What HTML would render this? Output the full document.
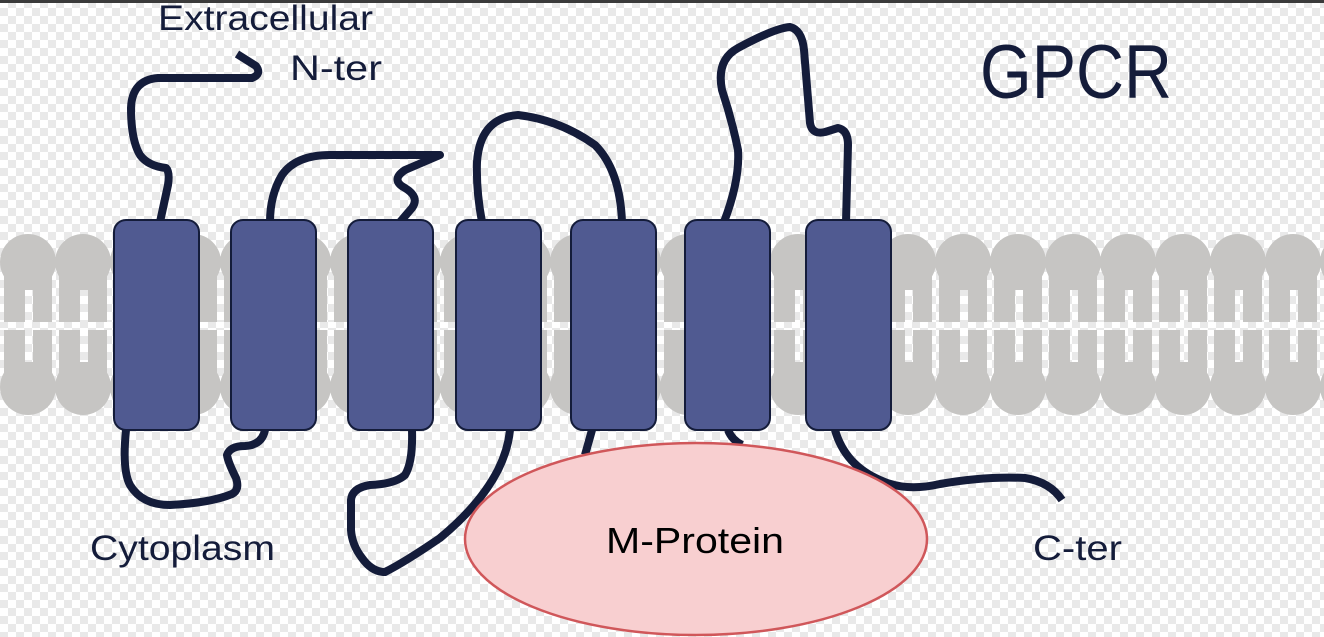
<!DOCTYPE html>
<html><head><meta charset="utf-8"><style>
html,body{margin:0;padding:0;}
body{width:1324px;height:637px;overflow:hidden;
background-color:#fff;
background-image:conic-gradient(#e9e9e9 25%,#fff 0 50%,#e9e9e9 0 75%,#fff 0);
background-size:16px 16px;}
svg{position:absolute;left:0;top:0;}
text{font-family:"Liberation Sans",sans-serif;fill:#141c3a;}
</style></head><body>
<svg width="1324" height="637" viewBox="0 0 1324 637" xmlns="http://www.w3.org/2000/svg">
<defs>
<pattern id="cb" width="16" height="16" patternUnits="userSpaceOnUse">
<rect width="16" height="16" fill="#fff"/><rect width="8" height="8" fill="#e9e9e9"/><rect x="8" y="8" width="8" height="8" fill="#e9e9e9"/>
</pattern>
<g id="lip">
<circle cx="0" cy="262" r="28"/>
<circle cx="0" cy="387" r="28"/>
<rect x="-24" y="270" width="48" height="52"/>
<rect x="-24" y="330" width="48" height="50"/>
</g>
</defs>
<rect x="0" y="0" width="1324" height="3" fill="#3a3a3a"/>
<g fill="#c6c5c3">
<use href="#lip" x="28"/><use href="#lip" x="83"/><use href="#lip" x="138"/><use href="#lip" x="193"/>
<use href="#lip" x="248"/><use href="#lip" x="303"/><use href="#lip" x="358"/><use href="#lip" x="413"/>
<use href="#lip" x="468"/><use href="#lip" x="523"/><use href="#lip" x="578"/><use href="#lip" x="633"/>
<use href="#lip" x="688"/><use href="#lip" x="743"/><use href="#lip" x="798"/><use href="#lip" x="853"/>
<use href="#lip" x="908"/><use href="#lip" x="963"/><use href="#lip" x="1018"/><use href="#lip" x="1073"/>
<use href="#lip" x="1128"/><use href="#lip" x="1183"/><use href="#lip" x="1238"/><use href="#lip" x="1293"/>
<use href="#lip" x="1348"/>
</g>
<g fill="url(#cb)">
<rect x="25" y="290" width="8" height="32"/><rect x="25" y="330" width="8" height="32"/>
<rect x="80" y="290" width="8" height="32"/><rect x="80" y="330" width="8" height="32"/>
<rect x="135" y="290" width="8" height="32"/><rect x="135" y="330" width="8" height="32"/>
<rect x="190" y="290" width="8" height="32"/><rect x="190" y="330" width="8" height="32"/>
<rect x="245" y="290" width="8" height="32"/><rect x="245" y="330" width="8" height="32"/>
<rect x="300" y="290" width="8" height="32"/><rect x="300" y="330" width="8" height="32"/>
<rect x="355" y="290" width="8" height="32"/><rect x="355" y="330" width="8" height="32"/>
<rect x="410" y="290" width="8" height="32"/><rect x="410" y="330" width="8" height="32"/>
<rect x="465" y="290" width="8" height="32"/><rect x="465" y="330" width="8" height="32"/>
<rect x="520" y="290" width="8" height="32"/><rect x="520" y="330" width="8" height="32"/>
<rect x="575" y="290" width="8" height="32"/><rect x="575" y="330" width="8" height="32"/>
<rect x="630" y="290" width="8" height="32"/><rect x="630" y="330" width="8" height="32"/>
<rect x="685" y="290" width="8" height="32"/><rect x="685" y="330" width="8" height="32"/>
<rect x="740" y="290" width="8" height="32"/><rect x="740" y="330" width="8" height="32"/>
<rect x="795" y="290" width="8" height="32"/><rect x="795" y="330" width="8" height="32"/>
<rect x="850" y="290" width="8" height="32"/><rect x="850" y="330" width="8" height="32"/>
<rect x="905" y="290" width="8" height="32"/><rect x="905" y="330" width="8" height="32"/>
<rect x="960" y="290" width="8" height="32"/><rect x="960" y="330" width="8" height="32"/>
<rect x="1015" y="290" width="8" height="32"/><rect x="1015" y="330" width="8" height="32"/>
<rect x="1070" y="290" width="8" height="32"/><rect x="1070" y="330" width="8" height="32"/>
<rect x="1125" y="290" width="8" height="32"/><rect x="1125" y="330" width="8" height="32"/>
<rect x="1180" y="290" width="8" height="32"/><rect x="1180" y="330" width="8" height="32"/>
<rect x="1235" y="290" width="8" height="32"/><rect x="1235" y="330" width="8" height="32"/>
<rect x="1290" y="290" width="8" height="32"/><rect x="1290" y="330" width="8" height="32"/>
<rect x="0" y="322" width="1324" height="8"/>
</g>

<g fill="none" stroke="#141c3a" stroke-width="8" stroke-linecap="butt" stroke-linejoin="round">
<path d="M237,54 L256,66 Q262,74 252,78 L158,78 Q132,80 131,108 Q131,140 140,155 Q148,166 166,168 Q170,172 168,185 L160,222"/>
<path d="M270,222 Q270,195 282,175 Q296,155 330,155 L440,155 L405,170 Q390,180 405,188 Q420,197 412,208 L400,222"/>
<path d="M482,222 Q476,190 477,162 Q480,118 518,115 Q560,120 595,145 Q620,170 622,222"/>
<path d="M724,222 Q740,180 738,150 Q732,120 722,90 Q716,60 738,48 Q775,28 790,27 Q802,30 804,50 L810,123 Q812,135 825,132 L838,128 Q848,130 848,145 L846,222"/>
<path d="M126,430 Q122,470 130,485 Q142,505 170,505 Q210,503 232,494 Q240,490 236,478 Q228,462 227,455 Q230,446 245,446 Q262,445 265,430"/>
<path d="M412,430 Q413,462 405,475 Q395,484 370,485 Q352,488 351,500 L351,530 Q352,545 362,558 Q372,572 385,572 Q405,562 440,538 Q480,505 498,470 Q508,450 510,430"/>
<path d="M592,430 L585,455"/>
<path d="M728,430 Q732,440 742,445"/>
<path d="M835,430 Q845,465 880,480 Q905,492 940,484 Q985,476 1025,478 Q1050,482 1062,500"/>
</g>

<g fill="#505a91" stroke="#141c3a" stroke-width="2">
<rect x="114" y="220" width="85" height="210" rx="12"/>
<rect x="231" y="220" width="85" height="210" rx="12"/>
<rect x="348" y="220" width="85" height="210" rx="12"/>
<rect x="456" y="220" width="85" height="210" rx="12"/>
<rect x="571" y="220" width="85" height="210" rx="12"/>
<rect x="685" y="220" width="85" height="210" rx="12"/>
<rect x="806" y="220" width="85" height="210" rx="12"/>
</g>

<ellipse cx="696" cy="539" rx="231" ry="96" fill="#f8cfd0" stroke="#d0575a" stroke-width="2.5"/>

<text x="158" y="30" font-size="35" textLength="215" lengthAdjust="spacingAndGlyphs">Extracellular</text>
<text x="290" y="80" font-size="35" textLength="92" lengthAdjust="spacingAndGlyphs">N-ter</text>
<text x="980" y="98" font-size="76" textLength="192" lengthAdjust="spacingAndGlyphs">GPCR</text>
<text x="90" y="560" font-size="35" textLength="185" lengthAdjust="spacingAndGlyphs">Cytoplasm</text>
<text x="606" y="553" font-size="36" textLength="178" lengthAdjust="spacingAndGlyphs" style="fill:#000">M-Protein</text>
<text x="1033" y="560" font-size="35" textLength="89" lengthAdjust="spacingAndGlyphs">C-ter</text>
</svg>
</body></html>
